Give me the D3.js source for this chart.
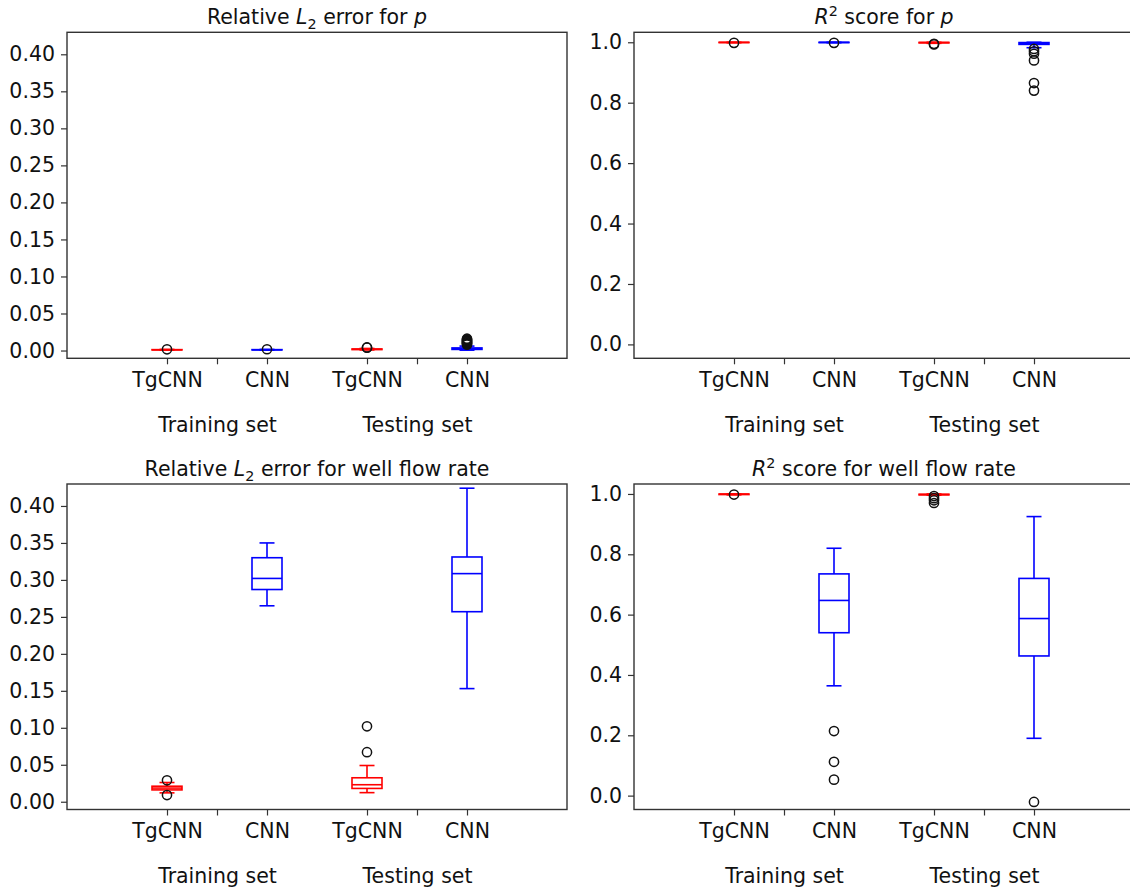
<!DOCTYPE html>
<html>
<head>
<meta charset="utf-8">
<script src="https://cdn.jsdelivr.net/npm/d3@7"></script>
<style>
  html, body { margin: 0; padding: 0; background: #fff; }
  svg { display: block; font-family: "DejaVu Sans", sans-serif; }
</style>
</head>
<body>
<svg id="fig" width="1130" height="894"></svg>
<script>
// Box positions, tick labels and group labels shared by all four panels
const positions = [1, 2, 3, 4];
const methodLabels = ["TgCNN", "CNN", "TgCNN", "CNN"];
const groupPositions = [1.5, 3.5];
const groupLabels = ["Training set", "Testing set"];
const boxColors = ["red", "blue", "red", "blue"];

// Box statistics per model: [q1, median, q3, lower whisker, upper whisker]
const pressureL2Stats = [
  [0.0008, 0.0010, 0.0012, 0.0005, 0.0015],
  [0.0008, 0.0010, 0.0012, 0.0005, 0.0015],
  [0.0013, 0.0017, 0.0021, 0.0008, 0.0028],
  [0.0015, 0.0025, 0.0035, 0.0005, 0.0060]
];
const pressureL2Fliers = [
  [0.0016],
  [0.0017],
  [0.0038, 0.0042],
  [0.008, 0.009, 0.010, 0.011, 0.012, 0.013, 0.014, 0.015, 0.016]
];

const pressureR2Stats = [
  [0.9990, 0.9995, 0.9999, 0.9985, 1.0000],
  [0.9990, 0.9995, 0.9999, 0.9985, 1.0000],
  [0.9980, 0.9990, 0.9995, 0.9965, 1.0000],
  [0.9930, 0.9970, 0.9990, 0.9820, 1.0000]
];
const pressureR2Fliers = [
  [0.998],
  [0.998],
  [0.993, 0.995],
  [0.978, 0.970, 0.962, 0.940, 0.865, 0.840]
];

const flowL2Stats = [
  [0.016, 0.0185, 0.021, 0.012, 0.026],
  [0.287, 0.302, 0.330, 0.265, 0.350],
  [0.018, 0.023, 0.0324, 0.0123, 0.049],
  [0.257, 0.3085, 0.331, 0.153, 0.424]
];
const flowL2Fliers = [
  [0.029, 0.009],
  [],
  [0.102, 0.067],
  []
];

const flowR2Stats = [
  [0.9980, 0.9992, 0.9998, 0.9970, 1.0000],
  [0.540, 0.647, 0.735, 0.364, 0.820],
  [0.9970, 0.9980, 0.9990, 0.9960, 1.0000],
  [0.463, 0.587, 0.720, 0.190, 0.925]
];
const flowR2Fliers = [
  [0.998],
  [0.214, 0.112, 0.053],
  [0.993, 0.986, 0.979, 0.970],
  [-0.021]
];

// Axis limits and tick values
const errorDomain = [-0.0105, 0.4297];
const errorTicks = [0, 0.05, 0.10, 0.15, 0.20, 0.25, 0.30, 0.35, 0.40];
const scoreDomain = [-0.046, 1.033];
const scoreTicks = [0, 0.2, 0.4, 0.6, 0.8, 1.0];
const xDomain = [0, 5];

const svg = d3.select("#fig");
const FONT = 20.5;

const panels = [
  { left: 67,  top: 32.3, height: 326, title: "l2p",  stats: pressureL2Stats, fliers: pressureL2Fliers,
    domain: errorDomain, ticks: errorTicks, fmt: d3.format(".2f") },
  { left: 634, top: 32.3, height: 326, title: "r2p",  stats: pressureR2Stats, fliers: pressureR2Fliers,
    domain: scoreDomain, ticks: scoreTicks, fmt: d3.format(".1f") },
  { left: 67,  top: 484,  height: 325.5, title: "l2q", stats: flowL2Stats, fliers: flowL2Fliers,
    domain: errorDomain, ticks: errorTicks, fmt: d3.format(".2f") },
  { left: 634, top: 484,  height: 325.5, title: "r2q", stats: flowR2Stats, fliers: flowR2Fliers,
    domain: scoreDomain, ticks: scoreTicks, fmt: d3.format(".1f") }
];

// Titles with italic symbols and sub/superscripts
function drawTitle(g, cx, y, kind) {
  const t = g.append("text")
    .attr("x", cx).attr("y", y)
    .attr("text-anchor", "middle")
    .attr("font-size", FONT)
    .attr("fill", "#111");
  const tail = (kind === "l2p" || kind === "r2p") ? " for " : " for well flow rate";
  if (kind === "l2p" || kind === "l2q") {
    t.append("tspan").text("Relative ");
    t.append("tspan").attr("font-style", "italic").text("L");
    t.append("tspan").attr("font-size", FONT * 0.7).attr("dy", 5).text("2");
    t.append("tspan").attr("dy", -5).text(" error" + tail);
  } else {
    t.append("tspan").attr("font-style", "italic").text("R");
    t.append("tspan").attr("font-size", FONT * 0.7).attr("dy", -8).text("2");
    t.append("tspan").attr("dy", 8).text(" score" + tail);
  }
  if (kind === "l2p" || kind === "r2p") {
    t.append("tspan").attr("font-style", "italic").text("p");
  }
}

panels.forEach(p => {
  const width = 500;
  const x = d3.scaleLinear().domain(xDomain).range([p.left, p.left + width]);
  const y = d3.scaleLinear().domain(p.domain).range([p.top + p.height, p.top]);
  const g = svg.append("g");

  // Box plots
  p.stats.forEach((s, i) => {
    const [q1, med, q3, lo, hi] = s;
    const pos = positions[i];
    const col = boxColors[i];
    const bg = g.append("g").attr("stroke", col).attr("stroke-width", 1.6).attr("fill", "none");
    bg.append("line").attr("x1", x(pos)).attr("x2", x(pos)).attr("y1", y(q3)).attr("y2", y(hi));
    bg.append("line").attr("x1", x(pos)).attr("x2", x(pos)).attr("y1", y(q1)).attr("y2", y(lo));
    bg.append("line").attr("x1", x(pos - 0.075)).attr("x2", x(pos + 0.075)).attr("y1", y(hi)).attr("y2", y(hi));
    bg.append("line").attr("x1", x(pos - 0.075)).attr("x2", x(pos + 0.075)).attr("y1", y(lo)).attr("y2", y(lo));
    bg.append("rect")
      .attr("x", x(pos - 0.15)).attr("width", x(pos + 0.15) - x(pos - 0.15))
      .attr("y", y(q3)).attr("height", Math.max(0.01, y(q1) - y(q3)));
    bg.append("line").attr("x1", x(pos - 0.15)).attr("x2", x(pos + 0.15)).attr("y1", y(med)).attr("y2", y(med));
  });

  // Outliers
  p.fliers.forEach((vals, i) => {
    g.selectAll(null).data(vals).enter().append("circle")
      .attr("cx", x(positions[i])).attr("cy", d => y(d)).attr("r", 4.6)
      .attr("fill", "none").attr("stroke", "#111").attr("stroke-width", 1.5);
  });

  // Frame
  g.append("rect")
    .attr("x", p.left).attr("y", p.top).attr("width", width).attr("height", p.height)
    .attr("fill", "none").attr("stroke", "#333").attr("stroke-width", 1.4);

  // Y axis
  const ya = g.append("g").attr("transform", `translate(${p.left},0)`)
    .call(d3.axisLeft(y).tickValues(p.ticks).tickFormat(p.fmt).tickSize(6).tickPadding(6));
  ya.select(".domain").remove();
  ya.selectAll("text").attr("font-size", FONT).attr("fill", "#111").attr("font-family", "DejaVu Sans");
  ya.selectAll("line").attr("stroke", "#333").attr("stroke-width", 1.2);

  // X axis: model labels
  const base = p.top + p.height;
  const xa = g.append("g").attr("transform", `translate(0,${base})`)
    .call(d3.axisBottom(x).tickValues(positions).tickFormat((d, i) => methodLabels[i]).tickSize(6).tickPadding(8));
  xa.select(".domain").remove();
  xa.selectAll("text").attr("font-size", FONT).attr("fill", "#111").attr("font-family", "DejaVu Sans");
  xa.selectAll("line").attr("stroke", "#333").attr("stroke-width", 1.2);

  // X axis: data split labels
  const xg = g.append("g").attr("transform", `translate(0,${base})`)
    .call(d3.axisBottom(x).tickValues(groupPositions).tickFormat((d, i) => groupLabels[i]).tickSize(6).tickPadding(53));
  xg.select(".domain").remove();
  xg.selectAll("text").attr("font-size", FONT).attr("fill", "#111").attr("font-family", "DejaVu Sans");
  xg.selectAll("line").attr("stroke", "#333").attr("stroke-width", 1.2);

  drawTitle(g, p.left + width / 2, p.top - 8, p.title);
});
</script>
</body>
</html>
